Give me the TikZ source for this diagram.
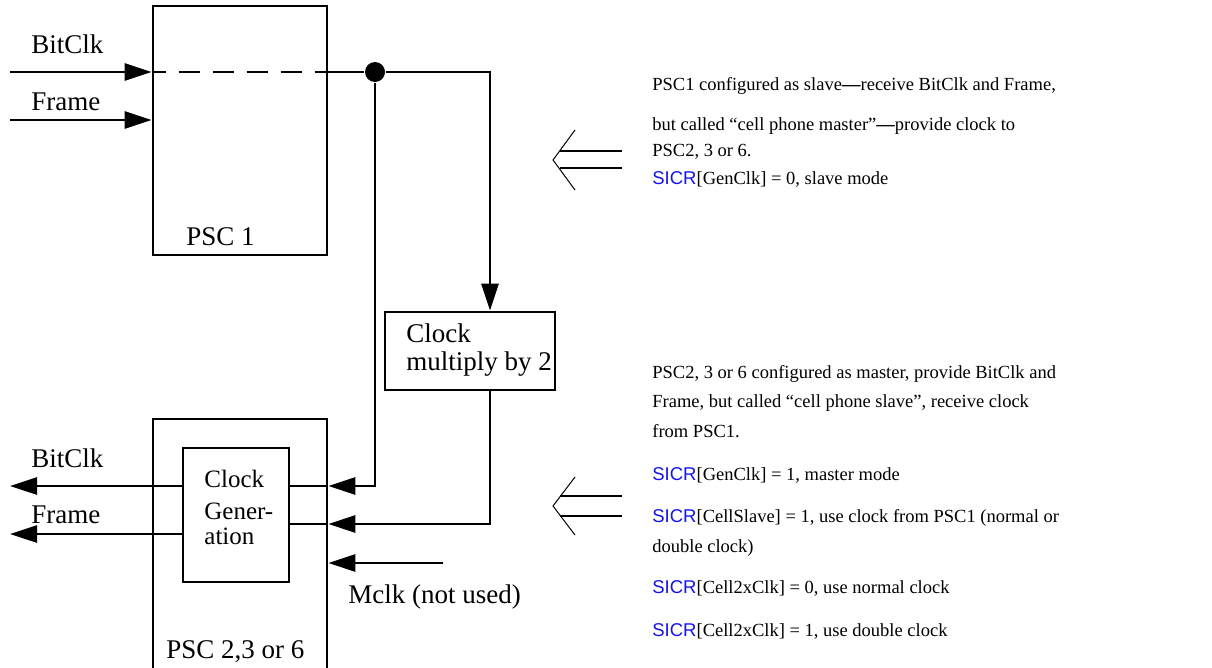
\documentclass[tikz,border=0pt]{standalone}
\usepackage{fontspec}
\setmainfont{Liberation Serif}
\newfontfamily\sicrfont{Liberation Sans}
\usetikzlibrary{arrows.meta}
\definecolor{sicrblue}{RGB}{20,20,235}
\newcommand{\sicr}{{\sicrfont\color{sicrblue}SICR}}
\begin{document}
\begin{tikzpicture}[x=1pt,y=-1pt, line width=2.8pt,
  box/.style={draw, rectangle, inner sep=0pt, line width=2.8pt},
  big/.style={font=\fontsize{27}{30}\selectfont, inner sep=0pt, anchor=base west},
  small/.style={font=\fontsize{25}{30}\selectfont, inner sep=0pt, anchor=base west},
  note/.style={font=\fontsize{18.5}{22}\selectfont, inner sep=0pt, anchor=base west},
  arr/.style={-{Triangle[length=27pt,width=17pt]}},
  chev/.style={line width=1pt}]
\path[use as bounding box, clip] (0,0) rectangle (1212,667);
\fill[white] (0,0) rectangle (1212,667);

% PSC1
\node[box, minimum width=174pt, minimum height=249pt] (psc1) at (240,130.5) {};
\node[big] (psc1lbl) at (185,245) {PSC 1};
\node[big] (lbitin) at (30,53) {BitClk};
\node[big] (lframein) at (30,110) {Frame};
\coordinate (bin) at (10,72);
\coordinate (fin) at (10,120);
\draw[arr] (bin) -- (psc1.west |- bin);
\draw[arr] (fin) -- (psc1.west |- fin);
\draw[dash pattern=on 21pt off 13pt, dash phase=7pt] (psc1.west |- bin) -- (psc1.east |- bin);

% junction dot
\node[circle, fill=black, inner sep=0pt, minimum size=20pt] (dot) at (375,72) {};
\draw (psc1.east |- bin) -- (dot);

% clock multiply
\node[box, minimum width=170pt, minimum height=78pt] (mult) at (470,351) {};
\node[big] (multl1) at (405,342) {Clock};
\node[big] (multl2) at (405,370) {multiply by 2};
\coordinate (c1) at (490,72);
\draw[arr] (dot) -- (c1) -- (c1 |- mult.north);

% PSC2
\node[box, minimum width=174pt, minimum height=281pt] (psc2) at (240,559.5) {};
\node[big] (psc2lbl) at (165,658) {PSC 2,3 or 6};
\node[box, minimum width=106pt, minimum height=134pt] (cg) at (236,515) {};
\node[small] (cgl1) at (203,487) {Clock};
\node[small] (cgl2) at (203,519) {Gener-};
\node[small] (cgl3) at (203,544) {ation};

% outputs
\coordinate (bout) at (10,486);
\coordinate (fout) at (10,534);
\draw[arr] (cg.west |- bout) -- (bout);
\draw[arr] (cg.west |- fout) -- (fout);
\node[big] (lbitout) at (30,467) {BitClk};
\node[big] (lframeout) at (30,523) {Frame};

% inputs to PSC2
\coordinate (c2) at (375,486);
\draw[arr] (dot) -- (c2) -- (psc2.east |- c2);
\draw (psc2.east |- c2) -- (cg.east |- c2);
\coordinate (c3) at (490,524);
\draw[arr] (mult.south -| c1) -- (c3) -- (psc2.east |- c3);
\draw (psc2.east |- c3) -- (cg.east |- c3);
\coordinate (mclk) at (443,563);
\draw[arr] (mclk) -- (psc2.east |- mclk);
\node[big] (mclklbl) at (347,603) {Mclk (not used)};

% chevron arrows
\coordinate (ch1) at (553,160);
\draw[chev] (575,130) -- (ch1) -- (575,190);
\draw[line width=2pt] (560,151) -- (622,151);
\draw[line width=2pt] (560,168) -- (622,168);
\coordinate (ch2) at (553,506);
\draw[chev] (575,477) -- (ch2) -- (575,535);
\draw[line width=2pt] (560,496) -- (622,496);
\draw[line width=2pt] (560,516) -- (622,516);

% notes
\node[note] (n1) at (651,90) {PSC1 configured as slave\textbf{—}receive BitClk and Frame,};
\node[note] (n2) at (651,130) {but called “cell phone master”\textbf{—}provide clock to};
\node[note] (n3) at (651,156) {PSC2, 3 or 6.};
\node[note] (n4) at (651,184) {\sicr[GenClk] = 0, slave mode};
\node[note] (n5) at (651,378) {PSC2, 3 or 6 configured as master, provide BitClk and};
\node[note] (n6) at (651,407) {Frame, but called “cell phone slave”, receive clock};
\node[note] (n7) at (651,437) {from PSC1.};
\node[note] (n8) at (651,480) {\sicr[GenClk] = 1, master mode};
\node[note] (n9) at (651,522) {\sicr[CellSlave] = 1, use clock from PSC1 (normal or};
\node[note] (n10) at (651,552) {double clock)};
\node[note] (n11) at (651,593) {\sicr[Cell2xClk] = 0, use normal clock};
\node[note] (n12) at (651,636) {\sicr[Cell2xClk] = 1, use double clock};
\end{tikzpicture}
\end{document}
